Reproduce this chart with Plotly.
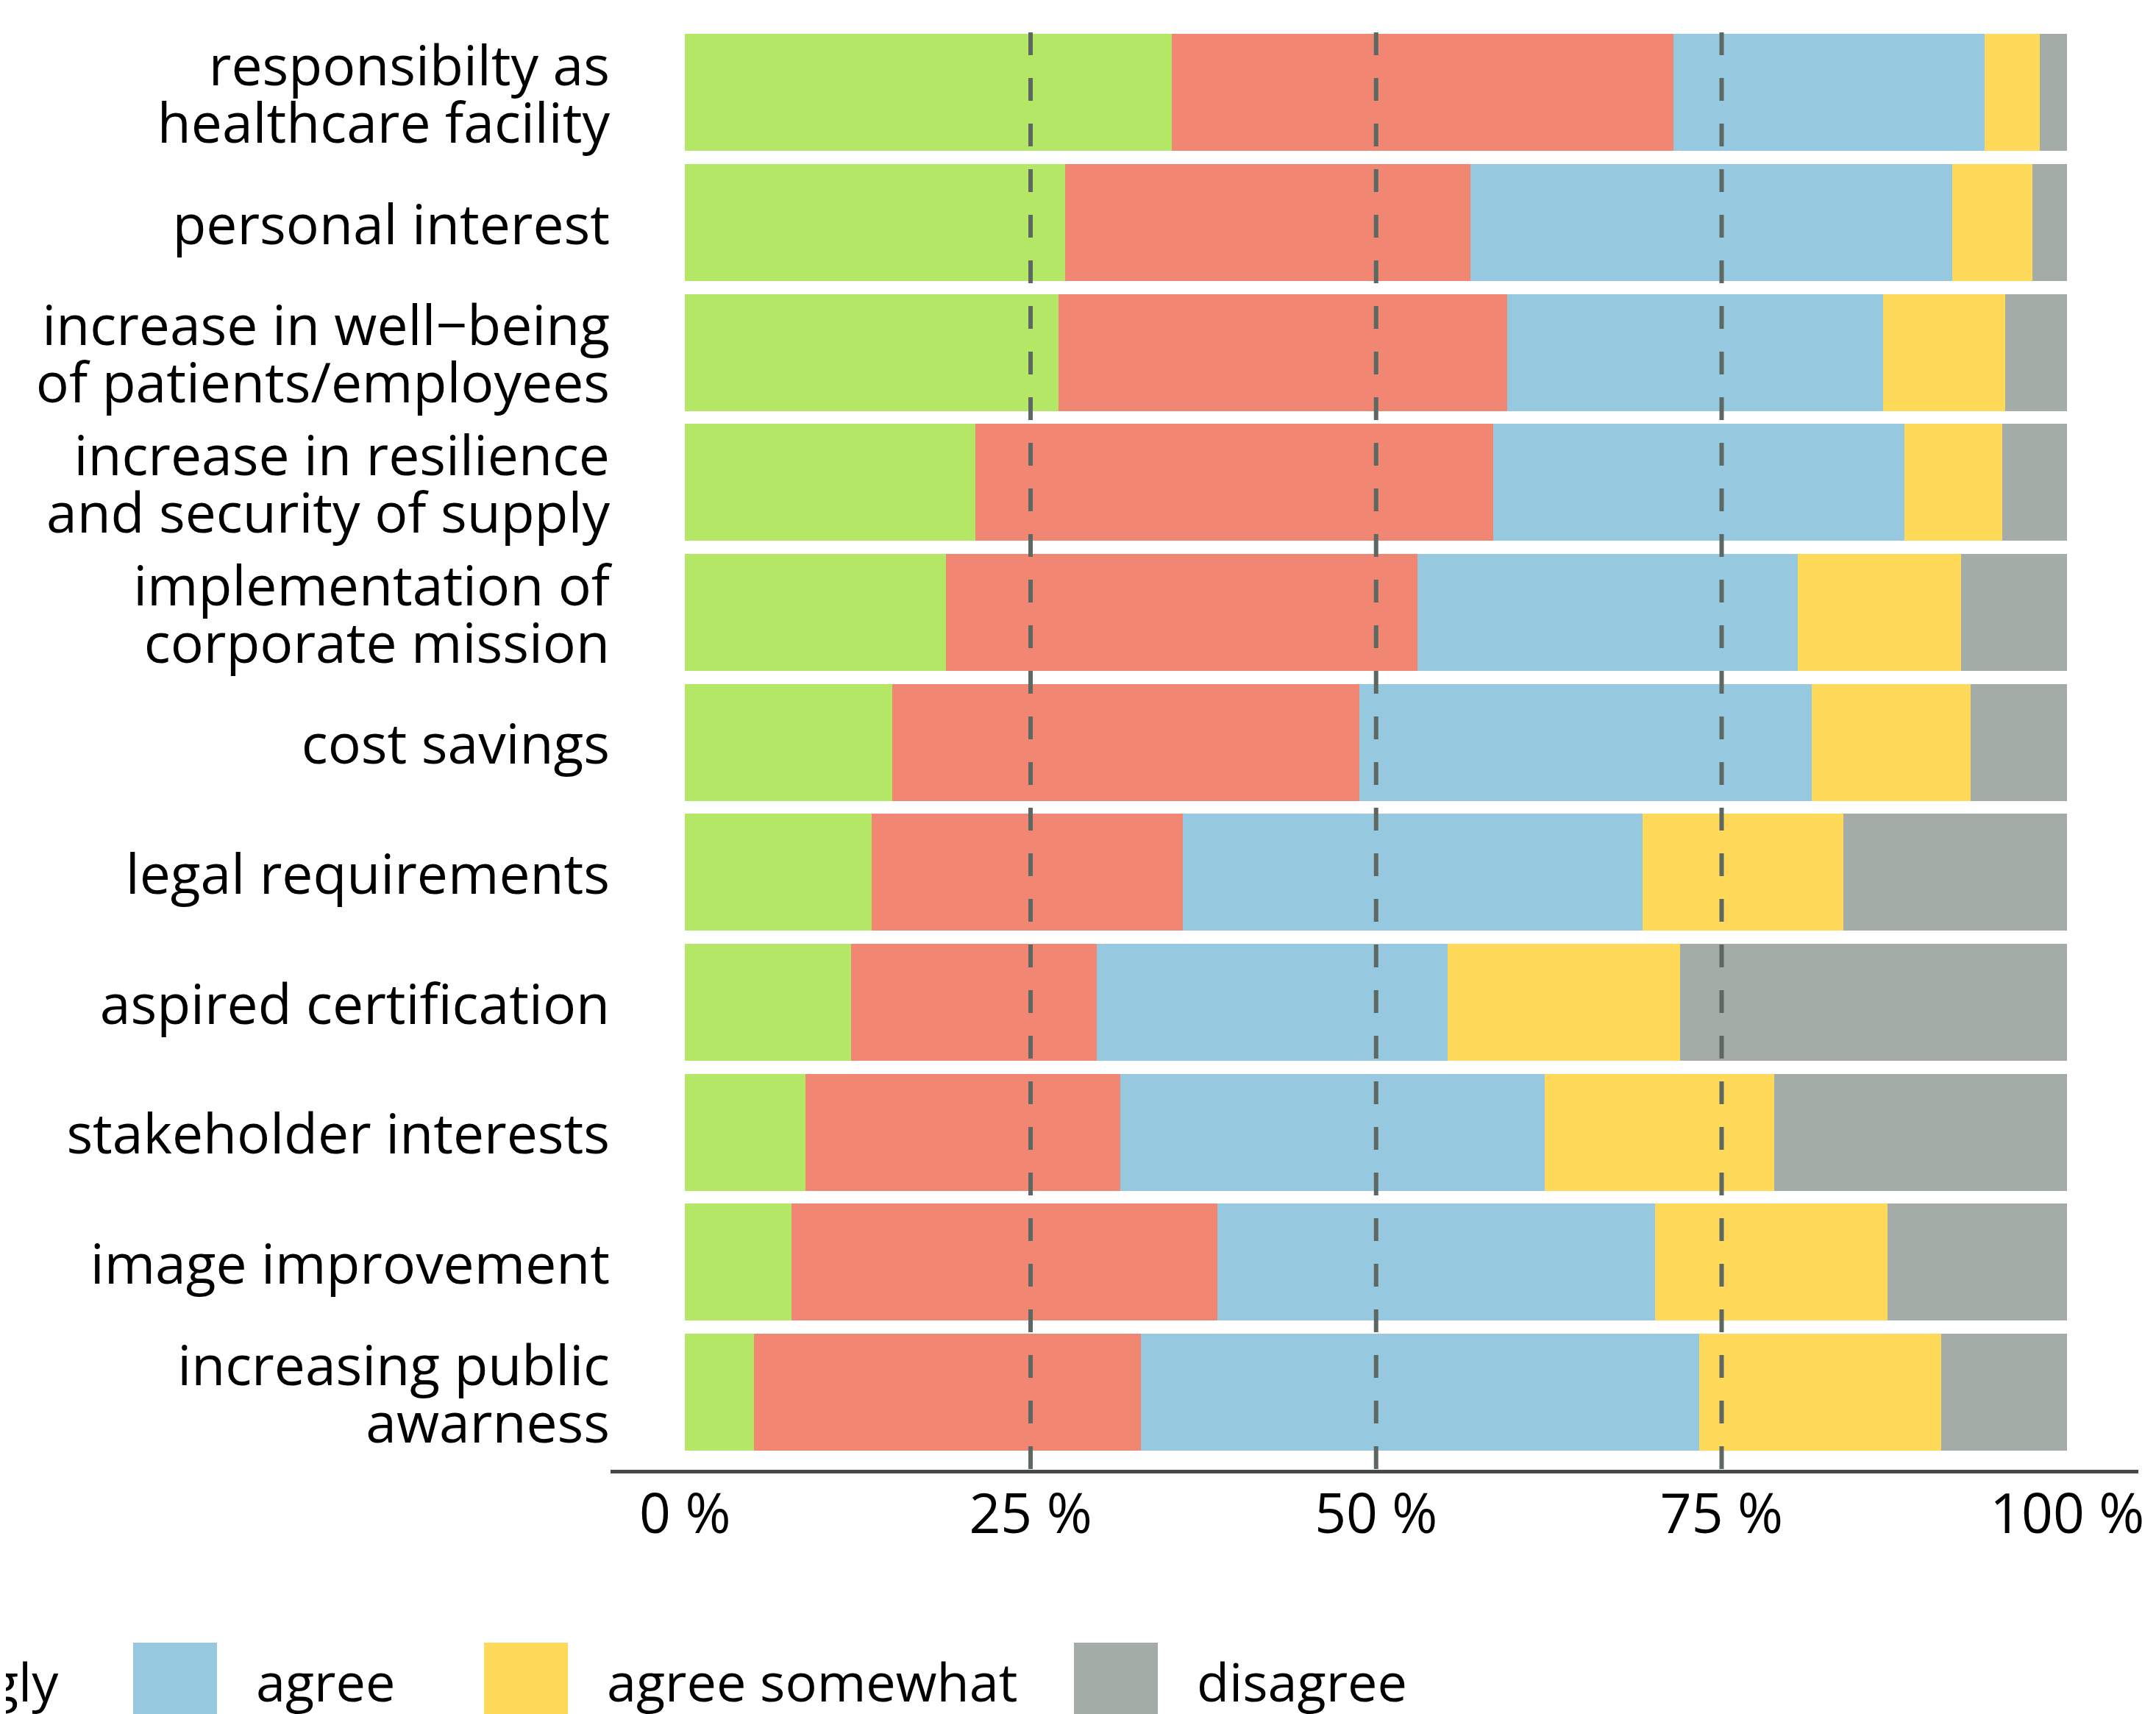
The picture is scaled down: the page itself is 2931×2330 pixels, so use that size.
import plotly.graph_objects as go

# ---------------- data ----------------
categories = [
    "responsibilty as<br>healthcare facility",
    "personal interest",
    "increase in well−being<br>of patients/employees",
    "increase in resilience<br>and security of supply",
    "implementation of<br>corporate mission",
    "cost savings",
    "legal requirements",
    "aspired certification",
    "stakeholder interests",
    "image improvement",
    "increasing public<br>awarness",
]

series_names = ["agree fully", "agree strongly", "agree", "agree somewhat", "disagree"]

agree_fully    = [35.2, 27.5, 27.0, 21.0, 18.9, 15.0, 13.5, 12.0,  8.7,  7.7,  5.0]
agree_strongly = [36.3, 29.3, 32.5, 37.5, 34.1, 33.8, 22.5, 17.8, 22.8, 30.8, 28.0]
agree          = [22.5, 34.9, 27.2, 29.7, 27.5, 32.7, 33.3, 25.4, 30.7, 31.7, 40.4]
agree_somewhat = [ 4.0,  5.8,  8.8,  7.1, 11.8, 11.5, 14.5, 16.8, 16.6, 16.8, 17.5]
disagree       = [ 2.0,  2.5,  4.5,  4.7,  7.7,  7.0, 16.2, 28.0, 21.2, 13.0,  9.1]

tick_vals = [0, 25, 50, 75, 100]
tick_text = ["0 %", "25 %", "50 %", "75 %", "100 %"]
ref_lines = [25, 50, 75]

# ---------------- style ----------------
colors = ["#b4e766", "#f18672", "#96c9df", "#fed95a", "#a3aca7"]
FONT = "Open Sans"
OFF = 8                      # page body margin of the browser
W, H = 2931 - OFF, 2330 - OFF
ML, MR, MT, MB = 830 - OFF, 24, 44 - OFF, 332
PW, PH = W - ML - MR, H - MT - MB

series_values = [agree_fully, agree_strongly, agree, agree_somewhat, disagree]

fig = go.Figure()
for name, vals, col in zip(series_names, series_values, colors):
    fig.add_trace(go.Bar(
        y=categories, x=vals, orientation="h", name=name,
        marker=dict(color=col, line=dict(width=0)),
        showlegend=False, hoverinfo="x+y+name",
    ))

# dashed reference lines
for v in ref_lines:
    fig.add_shape(type="line", xref="x", yref="paper", x0=v, x1=v, y0=1, y1=0,
                  line=dict(color="#5e6863", width=6, dash="31px,31px"), layer="above")

# manual legend (large swatches, partially cut at left as in the reference)
def px_to_paper_x(px):
    return (px - OFF - ML) / PW

def px_to_paper_y(py):
    return (H - MB - (py - OFF)) / PH

legend_swatch_left = [-1191, -566, 181, 658, 1460]
sw_w, sw_top, sw_bot = 114, 2233, 2347
text_gap = 51
text_mid_y = 2285
for name, col, lx in zip(series_names, colors, legend_swatch_left):
    fig.add_shape(type="rect", xref="paper", yref="paper",
                  x0=px_to_paper_x(lx), x1=px_to_paper_x(lx + sw_w),
                  y0=px_to_paper_y(sw_bot), y1=px_to_paper_y(sw_top),
                  fillcolor=col, line=dict(width=0), layer="above")
    fig.add_annotation(xref="paper", yref="paper",
                       x=px_to_paper_x(lx + sw_w + text_gap), y=px_to_paper_y(text_mid_y),
                       xanchor="left", yanchor="middle", text=name, showarrow=False,
                       font=dict(family=FONT, size=72, color="black"))

ytick_text = ['<span style="font-size:75px">' + c.replace("<br>", '</span><br><span style="font-size:75px">') + "</span>"
              for c in categories]

fig.update_layout(
    template="none",
    width=W, height=H,
    margin=dict(l=ML, r=MR, t=MT, b=MB, autoexpand=False),
    paper_bgcolor="white", plot_bgcolor="white",
    barmode="stack", bargap=0.1,
    font=dict(family=FONT, color="black"),
    showlegend=False,
    xaxis=dict(range=[-5.39, 105.15], tickmode="array", tickvals=tick_vals, ticktext=tick_text,
               showgrid=False, zeroline=False, showline=True, linecolor="#484848", linewidth=5,
               ticks="", tickfont=dict(family=FONT, size=75, color="black"),
               ticklabelstandoff=-9, automargin=False, fixedrange=True),
    yaxis=dict(type="category", categoryorder="array", categoryarray=categories,
               range=[10.597, -0.464], autorange=False,
               tickmode="array", tickvals=categories, ticktext=ytick_text,
               showgrid=False, zeroline=False, showline=False, ticks="",
               tickfont=dict(family=FONT, size=60, color="black"),
               ticklabelstandoff=0, ticklabelshift=-8, automargin=False, fixedrange=True),
)

fig.write_html("out.html")
